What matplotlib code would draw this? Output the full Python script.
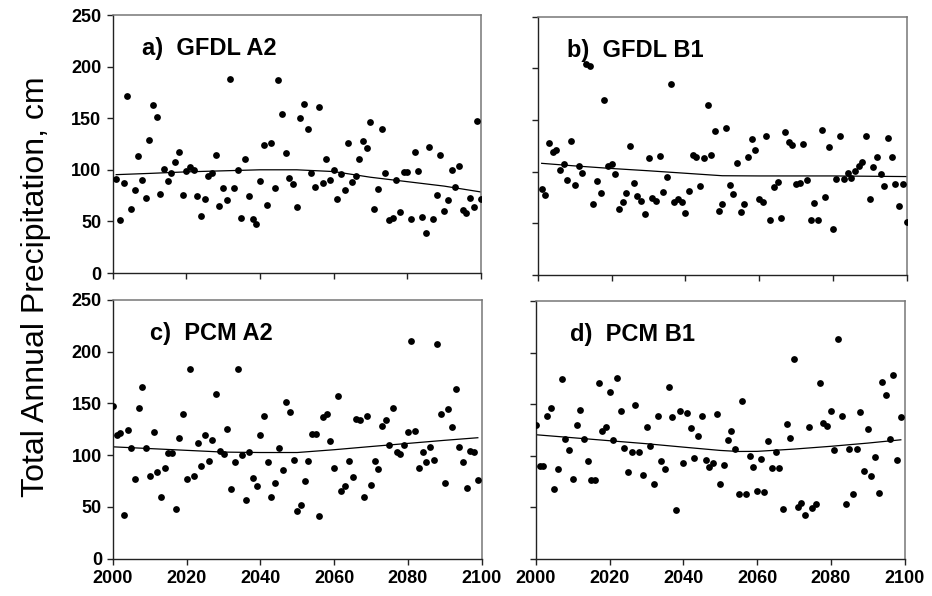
import numpy as np
import matplotlib
matplotlib.use("Agg")
import matplotlib.pyplot as plt

plt.rcParams['font.family'] = ['Liberation Sans', 'DejaVu Sans']

# Annual precipitation (cm) for four climate scenarios
years_gfdl = np.arange(2001, 2101)
years_pcm = np.arange(2000, 2100)

gfdl_a2 = [90.8, 51.5, 86.9, 171.5, 62, 80, 113.8, 90.4, 72.6, 128.7,
           162.4, 150.7, 77, 100.5, 89.5, 96.6, 108, 117, 75.2, 98.9,
           102.8, 100.2, 74.6, 55.4, 71.6, 94, 96.9, 114.4, 64.8, 82.3,
           70.3, 188, 82.7, 99.8, 53.5, 110.9, 74.9, 51.9, 47, 89.1,
           124.1, 65.8, 126.1, 82.7, 187.4, 154, 116.4, 91.7, 86.5, 63.9,
           149.8, 163.4, 139.1, 97.2, 83, 161.1, 87.5, 110.5, 90.4, 100.2,
           71.6, 95.6, 80, 126.4, 87.8, 94.3, 110.2, 128, 121.2, 145.9,
           61.6, 81.7, 139.1, 96.9, 51.5, 53.5, 90.1, 58.7, 97.6, 98.2,
           52.5, 117.3, 99.2, 54.5, 38.6, 122.2, 52.2, 75.2, 114.1, 60.3,
           70.7, 99.8, 83, 103.7, 60.9, 58.3, 72.6, 64, 147, 72]

gfdl_b1 = [82.9, 77.4, 127.4, 119, 121, 101.6, 107.7, 91.9, 129.7, 87.1,
           105.8, 99, 204, 202, 68.7, 91, 79.7, 169.4, 105.2, 107.7,
           97.7, 63.9, 70.3, 79.7, 124.8, 88.7, 76.5, 71.6, 59.4, 112.9,
           74.8, 71.9, 115.5, 80.6, 95.2, 185.2, 70.3, 73.2, 70.3, 59.7,
           81.6, 116.1, 113.9, 85.8, 112.9, 164.2, 115.8, 139.4, 61.9, 69,
           142.6, 87.1, 78.7, 108.7, 60.6, 69, 113.9, 131.9, 121, 73.2,
           70.3, 134.5, 53.2, 84.8, 90, 54.8, 138.4, 128.7, 125.5, 88.1,
           89.4, 127.1, 91.6, 53.2, 69.4, 53.2, 140.3, 75.5, 124.2, 44.8,
           92.6, 134.5, 92.9, 98.7, 94.2, 101, 105.2, 109.7, 134.5, 73.9,
           104.5, 114.2, 98.1, 86.1, 132.6, 114.5, 88.4, 67.1, 88.4, 51]

pcm_a2 = [147.4, 119.4, 121.6, 41.9, 124.2, 106.5, 76.5, 145.2, 166.1, 106.8,
          79.7, 121.9, 83.9, 59.7, 87.4, 102.3, 101.6, 47.4, 116.5, 139.4,
          76.5, 183.5, 79.4, 111.9, 89.4, 119, 94.2, 114.8, 159.4, 103.5,
          100.6, 125.5, 67.1, 92.9, 183.5, 99.7, 56.5, 103.2, 77.7, 70.3,
          119, 138.1, 93.5, 59.4, 73.2, 106.8, 85.8, 151.6, 141.9, 94.8,
          45.8, 51.3, 74.8, 94.5, 120.3, 120.3, 41.3, 136.5, 139.4, 113.2,
          87.4, 156.8, 65.5, 69.7, 93.9, 79, 135.2, 134.2, 59.7, 137.7,
          71, 94.5, 86.5, 127.7, 133.5, 110, 145.5, 102.9, 100.6, 109.4,
          122.3, 210.3, 123.5, 87.7, 102.9, 93.5, 108.1, 94.8, 207.1, 140,
          72.6, 144.2, 127.4, 163.5, 108.1, 93.5, 67.7, 104, 103, 76]

pcm_b1 = [130.1, 90.6, 90.6, 138.8, 146, 68, 87.4, 174.8, 116.2, 105.8,
          77.7, 130.1, 144, 116.2, 94.5, 77, 76.4, 170.2, 124.3, 127.5,
          161.5, 115.2, 175.7, 143.7, 107.4, 84.1, 103.2, 148.9, 103.2, 81.2,
          127.5, 109.1, 72.5, 138.2, 94.5, 87.1, 166.3, 137.9, 47.6, 143,
          93.5, 141.1, 126.9, 97.7, 118.8, 138.5, 96.4, 88.7, 92.9, 140.8,
          73.1, 90.9, 115.2, 123.9, 106.8, 63.1, 153.1, 63.1, 100, 89.3,
          66, 97.1, 65.4, 114.6, 88, 103.6, 88, 48.5, 131.1, 116.8,
          193.5, 50.2, 54.7, 42.4, 128.2, 49.8, 53.4, 170.6, 131.7, 129.1,
          143, 105.2, 213.3, 138.2, 53.4, 106.8, 63.1, 106.8, 142.1, 85.4,
          125.6, 80.3, 98.4, 64.4, 171.8, 158.9, 116.2, 178.6, 95.8, 137.2]

# Smoothed trend curves (knot years and values)
trend_a_years = [2001, 2010, 2020, 2030, 2040, 2050, 2060, 2070, 2080, 2090, 2100]
trend_a = [95.3, 96.5, 98, 99, 100, 100, 98.3, 92.8, 88.5, 84.2, 78.5]
trend_b_years = [2001, 2010, 2020, 2030, 2040, 2050, 2060, 2070, 2080, 2090, 2100]
trend_b = [108, 105.5, 103, 100.8, 98.4, 96, 95.8, 95.8, 95.8, 95.5, 95.2]
trend_c_years = [2000, 2010, 2020, 2030, 2040, 2050, 2060, 2070, 2080, 2090, 2099]
trend_c = [108, 106.3, 104.6, 102.9, 102.5, 102.5, 105.2, 108.3, 111.3, 114.3, 116.8]
trend_d_years = [2000, 2010, 2020, 2030, 2040, 2050, 2055, 2060, 2070, 2080, 2090, 2099]
trend_d = [120.4, 117.5, 114.6, 111.7, 108.4, 105.2, 104.2, 104.3, 106.5, 109.2, 112.3, 115.5]

panel_titles = ['a)  GFDL A2', 'b)  GFDL B1', 'c)  PCM A2', 'd)  PCM B1']
x_ticks = [2000, 2020, 2040, 2060, 2080, 2100]
y_ticks = [0, 50, 100, 150, 200, 250]

W, H = 932, 596
fig = plt.figure(figsize=(W / 100, H / 100), dpi=100)


def add_panel(left, right, top, bottom):
    return fig.add_axes([left / W, 1 - bottom / H, (right - left) / W, (bottom - top) / H])


boxes = [(112.5, 481, 15, 273), (538, 906.5, 16.5, 275),
         (113, 481.5, 300, 558.5), (536, 904.5, 301, 559)]
series = [(years_gfdl, gfdl_a2, trend_a_years, trend_a),
          (years_gfdl, gfdl_b1, trend_b_years, trend_b),
          (years_pcm, pcm_a2, trend_c_years, trend_c),
          (years_pcm, pcm_b1, trend_d_years, trend_d)]
title_x = [0.08, 0.078, 0.1, 0.092]

for i, (box, (yrs, vals, ty, tv)) in enumerate(zip(boxes, series)):
    ax = add_panel(*box)
    ax.scatter(yrs, vals, s=24, color='black', zorder=3, linewidths=0)
    ax.plot(ty, tv, color='black', lw=0.9, zorder=2)
    ax.set_xlim(2000, 2100)
    ax.set_ylim(0, 250)
    ax.set_xticks(x_ticks)
    ax.set_yticks(y_ticks)
    for side in ['top', 'right']:
        ax.spines[side].set_color('#777777')
        ax.spines[side].set_linewidth(1.1)
    for side in ['left', 'bottom']:
        ax.spines[side].set_color('#222222')
        ax.spines[side].set_linewidth(1.0)
    ax.tick_params(direction='out', length=4, width=1, colors='#222222',
                   labelsize=13, pad=4)
    for lab in ax.get_xticklabels() + ax.get_yticklabels():
        lab.set_fontweight('bold')
        lab.set_color('black')
    if i in (0, 1):
        ax.set_xticklabels([])
    if i in (1, 3):
        ax.set_yticklabels([])
    ax.text(title_x[i], 0.87, panel_titles[i], transform=ax.transAxes,
            fontsize=17, fontweight='bold', ha='left', va='center')

fig.text(36 / W, 1 - 287 / H, 'Total Annual Precipitation, cm', rotation=90,
         ha='center', va='center', fontsize=23)

fig.savefig('out.png', dpi=100)
